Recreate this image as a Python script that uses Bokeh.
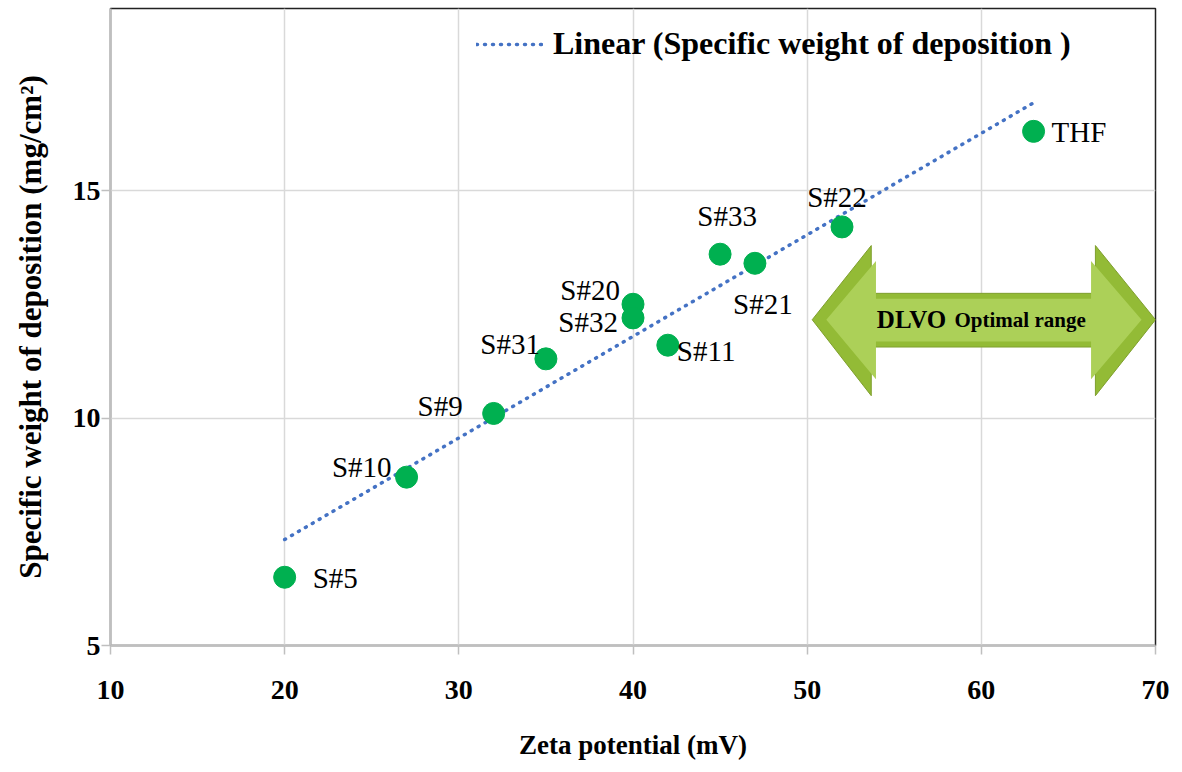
import numpy as np
from bokeh.plotting import figure
from bokeh.models import ColumnDataSource, Legend, LegendItem, FixedTicker, Range1d
from bokeh.core.properties import value
from bokeh.embed import file_html
from bokeh.resources import INLINE

# ---- data ----
samples = ["S#5", "S#10", "S#9", "S#31", "S#20", "S#32", "S#11", "S#33", "S#21", "S#22", "THF"]
zeta = [20, 27, 32, 35, 40, 40, 42, 45, 47, 52, 63]
weight = [6.5, 8.7, 10.1, 11.3, 12.5, 12.2, 11.6, 13.6, 13.4, 14.2, 16.3]
x_ticks = [10, 20, 30, 40, 50, 60, 70]
y_ticks = [5, 10, 15]

# label placement (screen px, y down) – style only
label_style = {
    "S#5": (28, 1, "left"), "S#10": (-15, -10, "right"), "S#9": (-31, -7, "right"),
    "S#31": (-6, -15, "right"), "S#20": (-13, -14, "right"), "S#32": (-15, 4, "right"),
    "S#11": (9, 6, "left"), "S#33": (7, -38, "center"), "S#21": (8, 41, "center"),
    "S#22": (-5, -30, "center"), "THF": (18, 1, "left"),
}

SERIF = "Liberation Serif"

p = figure(width=1178, height=764, output_backend="svg", toolbar_location=None,
           x_range=Range1d(10, 70), y_range=Range1d(5, 19),
           min_border_left=110, min_border_right=23, min_border_top=8, min_border_bottom=119)
p.frame_width = 1045
p.frame_height = 637

p.outline_line_color = "#222222"
p.outline_line_width = 1.5
p.background_fill_color = "white"
p.border_fill_color = "white"

# grid
p.xgrid.grid_line_color = "#d9d9d9"
p.ygrid.grid_line_color = "#d9d9d9"
p.xgrid.grid_line_width = 1.5
p.ygrid.grid_line_width = 1.5

# axes
for ax in (p.xaxis[0], p.yaxis[0]):
    ax.axis_line_color = "#bfbfbf"
    ax.axis_line_width = 2
    ax.major_tick_line_color = "#bfbfbf"
    ax.major_tick_line_width = 1.5
    ax.major_tick_out = 9
    ax.major_tick_in = 0
    ax.minor_tick_line_color = None
    ax.major_label_text_font = SERIF
    ax.major_label_text_font_style = "bold"
    ax.major_label_text_font_size = "28px"
    ax.major_label_text_color = "black"
    ax.axis_label_text_font = SERIF
    ax.axis_label_text_font_style = "bold"
    ax.axis_label_text_color = "black"

p.xaxis.axis_label_text_font_size = "27px"
p.yaxis.axis_label_text_font_size = "31px"
p.xaxis.ticker = FixedTicker(ticks=x_ticks)
p.yaxis.ticker = FixedTicker(ticks=y_ticks)
p.xaxis.major_label_standoff = 26
p.yaxis.major_label_standoff = 1
p.xaxis.axis_label_standoff = 28
p.yaxis.axis_label_standoff = 22
p.xaxis.axis_label = "Zeta potential (mV)"
p.yaxis.axis_label = "Specific weight of deposition (mg/cm\u00b2)"

# arrow (DLVO optimal range)
ax_pts = [50.29, 53.68, 53.68, 66.55, 66.55, 70.0, 66.55, 66.55, 53.68, 53.68]
ay_pts = [12.16, 13.79, 12.74, 12.74, 13.79, 12.16, 10.49, 11.56, 11.56, 10.49]
p.patch(ax_pts, ay_pts, fill_color="#93bb36", line_color="#7f9f2e", line_width=1)
ix = [51.1, 53.95, 53.95, 66.3, 66.3, 69.2, 66.3, 66.3, 53.95, 53.95]
iy = [12.16, 13.45, 12.62, 12.62, 13.45, 12.16, 10.85, 11.68, 11.68, 10.85]
p.patch(ix, iy, fill_color="#acd058", line_color=None)
p.text(x=[54.0], y=[12.16], text=["DLVO"], text_font=value(SERIF), text_font_style="bold",
       text_font_size="25px", text_baseline="middle", text_align="left", text_color="black")
p.text(x=[58.46], y=[12.16], text=["Optimal range"], text_font=value(SERIF), text_font_style="bold",
       text_font_size="21px", text_baseline="middle", text_align="left", text_color="black")

# trendline (least squares)
slope, intercept = np.polyfit(zeta, weight, 1)
tx = [min(zeta), max(zeta)]
ty = [slope * v + intercept for v in tx]
trend = p.line(tx, ty, line_color="#4472c4", line_width=3.5, line_dash="1 7", line_cap="round")

# points
src = ColumnDataSource(dict(
    x=zeta, y=weight, label=samples,
    dx=[label_style[s][0] for s in samples],
    dy=[label_style[s][1] for s in samples],
    align=[label_style[s][2] for s in samples],
))
p.scatter("x", "y", source=src, size=22, fill_color="#00b050", line_color="#00b050")
p.text("x", "y", text="label", source=src, x_offset="dx", y_offset="dy", text_align="align",
       text_baseline="middle", text_font=value(SERIF), text_font_size="29px", text_color="black")

legend = Legend(items=[LegendItem(label="Linear (Specific weight of deposition )", renderers=[trend])],
                location=(366, 583), background_fill_alpha=0, border_line_color=None,
                padding=0, margin=0, glyph_width=67, glyph_height=36, label_standoff=10,
                label_text_font=SERIF, label_text_font_style="bold", label_text_font_size="32px",
                label_text_color="black")
p.add_layout(legend)

open("out.html", "w").write(file_html(p, INLINE))
